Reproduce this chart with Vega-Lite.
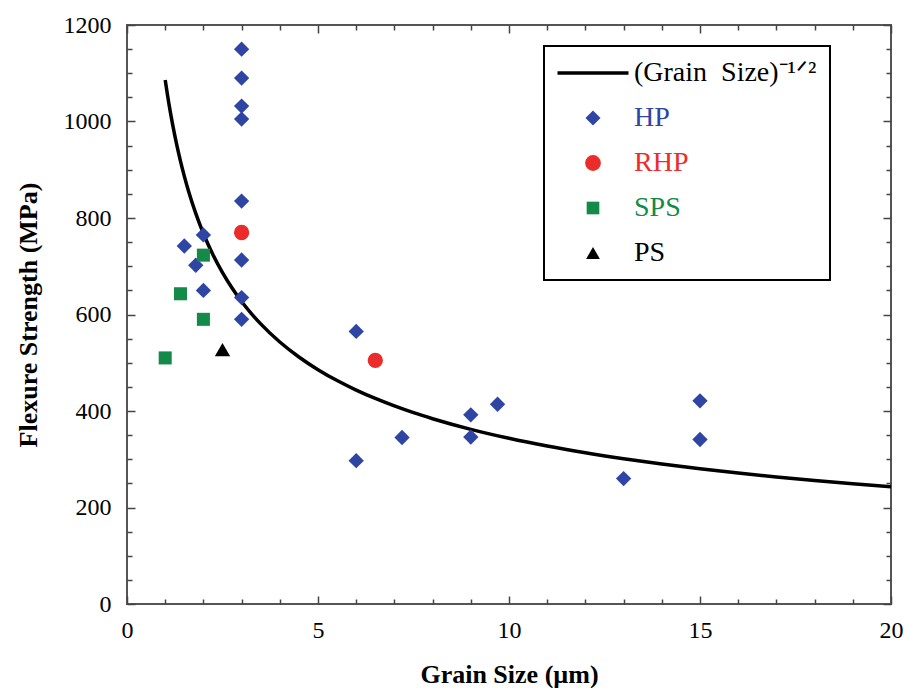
{
  "$schema": "https://vega.github.io/schema/vega-lite/v6.json",
  "width": 764,
  "height": 579,
  "autosize": {"type": "none"},
  "padding": {"left": 127, "top": 25, "right": 18, "bottom": 84},
  "background": "white",
  "config": {
    "view": {"stroke": "#555555", "strokeWidth": 2},
    "font": "Liberation Serif",
    "axis": {"domain": false, "grid": false, "ticks": true, "tickColor": "#444444", "tickOpacity": 1, "tickWidth": 1.5, "zindex": 2, "labelFont": "Liberation Serif", "labelColor": "black", "titleFont": "Liberation Serif", "titleColor": "black"},
    "legend": {"labelFont": "Liberation Serif"}
  },
  "datasets": {
    "pts": [
      {"g": 3, "s": 1150, "series": "HP"},
      {"g": 3, "s": 1090, "series": "HP"},
      {"g": 3, "s": 1032, "series": "HP"},
      {"g": 3, "s": 1005, "series": "HP"},
      {"g": 3, "s": 835, "series": "HP"},
      {"g": 3, "s": 713, "series": "HP"},
      {"g": 3, "s": 635, "series": "HP"},
      {"g": 3, "s": 590, "series": "HP"},
      {"g": 2, "s": 765, "series": "HP"},
      {"g": 1.5, "s": 742, "series": "HP"},
      {"g": 1.8, "s": 702, "series": "HP"},
      {"g": 2, "s": 650, "series": "HP"},
      {"g": 6, "s": 565, "series": "HP"},
      {"g": 6, "s": 297, "series": "HP"},
      {"g": 7.2, "s": 345, "series": "HP"},
      {"g": 9, "s": 392, "series": "HP"},
      {"g": 9, "s": 346, "series": "HP"},
      {"g": 9.7, "s": 414, "series": "HP"},
      {"g": 13, "s": 260, "series": "HP"},
      {"g": 15, "s": 421, "series": "HP"},
      {"g": 15, "s": 341, "series": "HP"},
      {"g": 3, "s": 770, "series": "RHP"},
      {"g": 6.5, "s": 505, "series": "RHP"},
      {"g": 2, "s": 723, "series": "SPS"},
      {"g": 1.4, "s": 643, "series": "SPS"},
      {"g": 2, "s": 590, "series": "SPS"},
      {"g": 1, "s": 510, "series": "SPS"},
      {"g": 2.5, "s": 527, "series": "PS"}
    ],
    "curve": [
      {"g": 1, "s": 1086}, {"g": 1.1, "s": 1035.5}, {"g": 1.2, "s": 991.4}, {"g": 1.3, "s": 952.5},
      {"g": 1.4, "s": 917.8}, {"g": 1.5, "s": 886.7}, {"g": 1.6, "s": 858.6}, {"g": 1.8, "s": 809.5},
      {"g": 2, "s": 767.9}, {"g": 2.25, "s": 724.0}, {"g": 2.5, "s": 686.9}, {"g": 2.75, "s": 654.9},
      {"g": 3, "s": 627.0}, {"g": 3.25, "s": 602.4}, {"g": 3.5, "s": 580.5}, {"g": 4, "s": 543.0},
      {"g": 4.5, "s": 512.0}, {"g": 5, "s": 485.7}, {"g": 5.5, "s": 463.1}, {"g": 6, "s": 443.4},
      {"g": 6.5, "s": 426.0}, {"g": 7, "s": 410.5}, {"g": 7.5, "s": 396.5}, {"g": 8, "s": 384.0},
      {"g": 9, "s": 362.0}, {"g": 10, "s": 343.4}, {"g": 11, "s": 327.4}, {"g": 12, "s": 313.5},
      {"g": 13, "s": 301.2}, {"g": 14, "s": 290.2}, {"g": 15, "s": 280.4}, {"g": 16, "s": 271.5},
      {"g": 17, "s": 263.4}, {"g": 18, "s": 256.0}, {"g": 19, "s": 249.1}, {"g": 20, "s": 242.8}
    ]
  },
  "layer": [
    {
      "data": {"name": "curve"},
      "mark": {"type": "line", "opacity": 0},
      "encoding": {
        "x": {"field": "g", "type": "quantitative", "scale": {"domain": [0, 20], "nice": false, "zero": false},
          "axis": {"orient": "top", "title": null, "labels": false, "ticks": true, "values": [1,2,3,4,6,7,8,9,11,12,13,14,16,17,18,19], "tickSize": 5, "offset": -5}},
        "y": {"field": "s", "type": "quantitative", "scale": {"domain": [0, 1200], "nice": false},
          "axis": {"orient": "right", "title": null, "labels": false, "ticks": true, "values": [50,100,150,250,300,350,450,500,550,650,700,750,850,900,950,1050,1100,1150], "tickSize": 5, "offset": -5}}
      }
    },
    {
      "data": {"name": "curve"},
      "mark": {"type": "line", "opacity": 0},
      "encoding": {
        "x": {"field": "g", "type": "quantitative", "scale": {"domain": [0, 20], "nice": false, "zero": false},
          "axis": {"orient": "bottom", "title": null, "labels": false, "ticks": true, "values": [1,2,3,4,6,7,8,9,11,12,13,14,16,17,18,19], "tickSize": 5, "offset": -5}},
        "y": {"field": "s", "type": "quantitative", "scale": {"domain": [0, 1200], "nice": false},
          "axis": {"orient": "left", "title": null, "labels": false, "ticks": true, "values": [50,100,150,250,300,350,450,500,550,650,700,750,850,900,950,1050,1100,1150], "tickSize": 5, "offset": -5}}
      }
    },
    {
      "data": {"name": "curve"},
      "mark": {"type": "line", "color": "black", "strokeWidth": 3.5, "clip": true, "interpolate": "monotone"},
      "encoding": {
        "x": {"field": "g", "type": "quantitative", "scale": {"domain": [0, 20], "nice": false, "zero": false},
          "axis": {"orient": "top", "title": null, "labels": false, "ticks": true, "values": [0,5,10,15,20], "tickSize": 8, "offset": -8}},
        "y": {"field": "s", "type": "quantitative", "scale": {"domain": [0, 1200], "nice": false},
          "axis": {"orient": "right", "title": null, "labels": false, "ticks": true, "values": [0,200,400,600,800,1000,1200], "tickSize": 8, "offset": -8}}
      }
    },
    {
      "data": {"name": "pts"},
      "mark": {"type": "point", "filled": true, "opacity": 1, "strokeWidth": 0},
      "encoding": {
        "x": {"field": "g", "type": "quantitative", "scale": {"domain": [0, 20], "nice": false, "zero": false},
          "axis": {"orient": "bottom", "title": "Grain Size (µm)", "titleFont": "Liberation Serif", "titleFontSize": 26, "titleFontWeight": "bold", "titlePadding": 19,
            "labelFont": "Liberation Serif", "labelFontSize": 24, "labelPadding": 14, "labelOverlap": false, "labelFlush": false, "format": "d",
            "ticks": true, "values": [0,5,10,15,20], "tickSize": 8, "offset": -8}},
        "y": {"field": "s", "type": "quantitative", "scale": {"domain": [0, 1200], "nice": false},
          "axis": {"orient": "left", "title": "Flexure Strength (MPa)", "titleFont": "Liberation Serif", "titleFontSize": 26, "titleFontWeight": "bold", "titlePadding": 22,
            "labelFont": "Liberation Serif", "labelFontSize": 24, "labelPadding": 16, "labelOverlap": false, "labelFlush": false, "format": "d",
            "ticks": true, "values": [0,200,400,600,800,1000,1200], "tickSize": 8, "offset": -8}},
        "color": {"field": "series", "type": "nominal",
          "scale": {"domain": ["curve", "HP", "RHP", "SPS", "PS"], "range": ["#000000", "#2F45A3", "#EC2B2B", "#138A48", "#000000"]},
          "legend": {"orient": "none", "legendX": 417, "legendY": 21, "title": null,
            "strokeColor": "black", "fillColor": "white", "padding": 13,
            "symbolSize": 225, "symbolOffset": 22, "labelOffset": 27, "rowPadding": 17,
            "labelFont": "Liberation Serif", "labelFontSize": 28, "labelLimit": 500,
            "labelExpr": "datum.value === 'curve' ? '\u2009(Grain\u00a0\u00a0Size)⁻¹ᐟ²\u00a0\u00a0\u00a0\u00a0' : datum.label",
            "encoding": {
              "legend": {"strokeWidth": {"value": 2}},
              "symbols": {
                "size": {"value": {"expr": "datum.value === 'curve' ? 5041 : datum.value === 'HP' ? 225 : datum.value === 'RHP' ? 250 : datum.value === 'SPS' ? 160 : 190"}},
                "stroke": {"value": {"expr": "datum.value === 'curve' ? 'black' : 'transparent'"}},
                "strokeWidth": {"value": {"expr": "datum.value === 'curve' ? 3.5 : 0"}}
              },
              "labels": {"fill": {"value": {"expr": "scale('color', datum.value)"}}}
            }}},
        "shape": {"field": "series", "type": "nominal",
          "scale": {"domain": ["curve", "HP", "RHP", "SPS", "PS"], "range": ["stroke", "diamond", "circle", "square", "triangle-up"]}},
        "size": {"condition": {"test": "datum.series === 'SPS'", "value": 170}, "value": 235}
      }
    }
  ],
  "resolve": {"axis": {"x": "independent", "y": "independent"}}
}
